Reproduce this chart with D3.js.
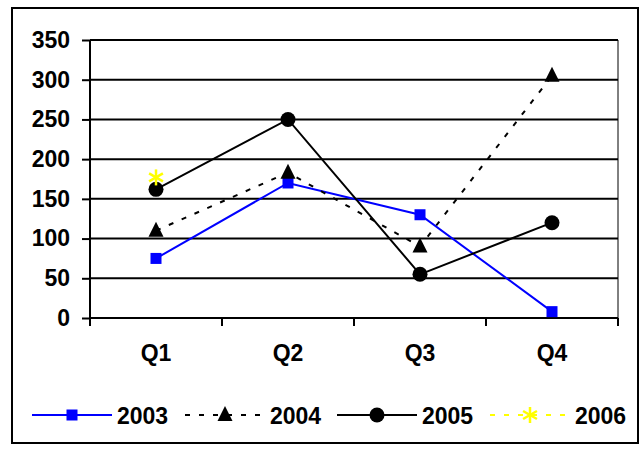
<!DOCTYPE html>
<html>
<head>
<meta charset="utf-8">
<script src="https://cdn.jsdelivr.net/npm/d3@7"></script>
<style>
  body { margin: 0; background: #fff; }
  text { font-family: "Liberation Sans", Arial, sans-serif; font-weight: bold; }
</style>
</head>
<body>
<div id="chart"></div>
<script>
// Data
const quarters = ['Q1', 'Q2', 'Q3', 'Q4']
const yTicks = [0, 50, 100, 150, 200, 250, 300, 350]
const s2003 = [75, 170, 130, 8]
const s2004 = [110, 183, 90, 305]
const s2005 = [162, 250, 55, 120]
const s2006 = [177, null, null, null]

const series = [
  { name: '2003', values: s2003, color: '#0000ff', dash: null, marker: 'square' },
  { name: '2004', values: s2004, color: '#000', dash: '5,9', marker: 'triangle' },
  { name: '2005', values: s2005, color: '#000', dash: null, marker: 'circle' },
  { name: '2006', values: s2006, color: '#ffff00', dash: '5,9', marker: 'star' },
]

const width = 641, height = 450
const m = { left: 90, right: 23, top: 40, bottom: 132 }
const fs = 23

const svg = d3.select('#chart').append('svg')
  .attr('width', width).attr('height', height)

// cornice esterna
svg.append('rect')
  .attr('x', 12).attr('y', 8).attr('width', 626).attr('height', 435)
  .attr('fill', 'none').attr('stroke', '#000').attr('stroke-width', 2)

const xScale = d3.scaleBand().domain(quarters).range([m.left, width - m.right])
const yScale = d3.scaleLinear().domain([0, 350]).range([height - m.bottom, m.top])

// griglia
svg.append('g').selectAll('line').data(yTicks.slice(1)).join('line')
  .attr('x1', m.left).attr('x2', width - m.right)
  .attr('y1', d => yScale(d)).attr('y2', d => yScale(d))
  .attr('stroke', '#000').attr('stroke-width', 2)
// bordo destro del plot
svg.append('line')
  .attr('x1', width - m.right).attr('x2', width - m.right)
  .attr('y1', m.top).attr('y2', yScale(0))
  .attr('stroke', '#000').attr('stroke-width', 1)

// assi
const yAxis = d3.axisLeft(yScale).tickValues(yTicks).tickSize(8).tickPadding(12)
const yG = svg.append('g').attr('transform', `translate(${m.left},0)`).call(yAxis)
yG.selectAll('text').attr('font-size', fs).attr('fill', '#000')
yG.selectAll('line, path').attr('stroke', '#000').attr('stroke-width', 2)
yG.select('.domain').attr('d', `M0,${m.top}V${yScale(0)}`)

const xAxis = d3.axisBottom(xScale).tickSize(0).tickPadding(27)
const xG = svg.append('g').attr('transform', `translate(0,${yScale(0)})`).call(xAxis)
xG.selectAll('text').attr('font-size', fs).attr('fill', '#000')
xG.select('.domain').attr('stroke', '#000').attr('stroke-width', 2)
  .attr('d', `M${m.left},0H${width - m.right}`)
// tacche tra le categorie
xG.append('g').selectAll('line')
  .data(quarters.map(q => xScale(q)).concat([xScale.range()[1]]))
  .join('line')
  .attr('x1', d => d).attr('x2', d => d).attr('y1', 0).attr('y2', 8)
  .attr('stroke', '#000').attr('stroke-width', 2)

const cx = q => xScale(q) + xScale.bandwidth() / 2

function drawMarker(g, type, color, x, y) {
  if (type === 'square') {
    g.append('rect').attr('x', x - 5.5).attr('y', y - 5.5).attr('width', 11).attr('height', 11).attr('fill', color)
  } else if (type === 'triangle') {
    g.append('path').attr('d', `M${x},${y - 9}L${x + 7.5},${y + 6}L${x - 7.5},${y + 6}Z`).attr('fill', color)
  } else if (type === 'circle') {
    g.append('circle').attr('cx', x).attr('cy', y).attr('r', 7.5).attr('fill', color)
  } else if (type === 'star') {
    const r = 8
    ;[0, 60, 120].forEach(a => {
      const rad = a * Math.PI / 180
      g.append('line')
        .attr('x1', x - r * Math.sin(rad)).attr('y1', y - r * Math.cos(rad))
        .attr('x2', x + r * Math.sin(rad)).attr('y2', y + r * Math.cos(rad))
        .attr('stroke', color).attr('stroke-width', 2.5)
    })
  }
}

const line = d3.line()
  .defined(d => d.v != null)
  .x(d => cx(d.q)).y(d => yScale(d.v))

series.forEach(s => {
  const pts = quarters.map((q, i) => ({ q, v: s.values[i] }))
  const g = svg.append('g')
  g.append('path').datum(pts).attr('d', line)
    .attr('fill', 'none').attr('stroke', s.color).attr('stroke-width', 2)
    .attr('stroke-dasharray', s.dash)
  pts.filter(d => d.v != null).forEach(d => drawMarker(g, s.marker, s.color, cx(d.q), yScale(d.v)))
})

// legenda
const legendX = [32, 185, 337, 490]
const ly = 415
series.forEach((s, i) => {
  const g = svg.append('g')
  const x0 = legendX[i]
  g.append('line').attr('x1', x0).attr('x2', x0 + 80).attr('y1', ly).attr('y2', ly)
    .attr('stroke', s.color).attr('stroke-width', 2).attr('stroke-dasharray', s.dash)
  drawMarker(g, s.marker, s.color, x0 + 40, ly)
  g.append('text').attr('x', x0 + 85).attr('y', ly + 8.5)
    .attr('font-size', fs).text(s.name)
})
</script>
</body>
</html>
